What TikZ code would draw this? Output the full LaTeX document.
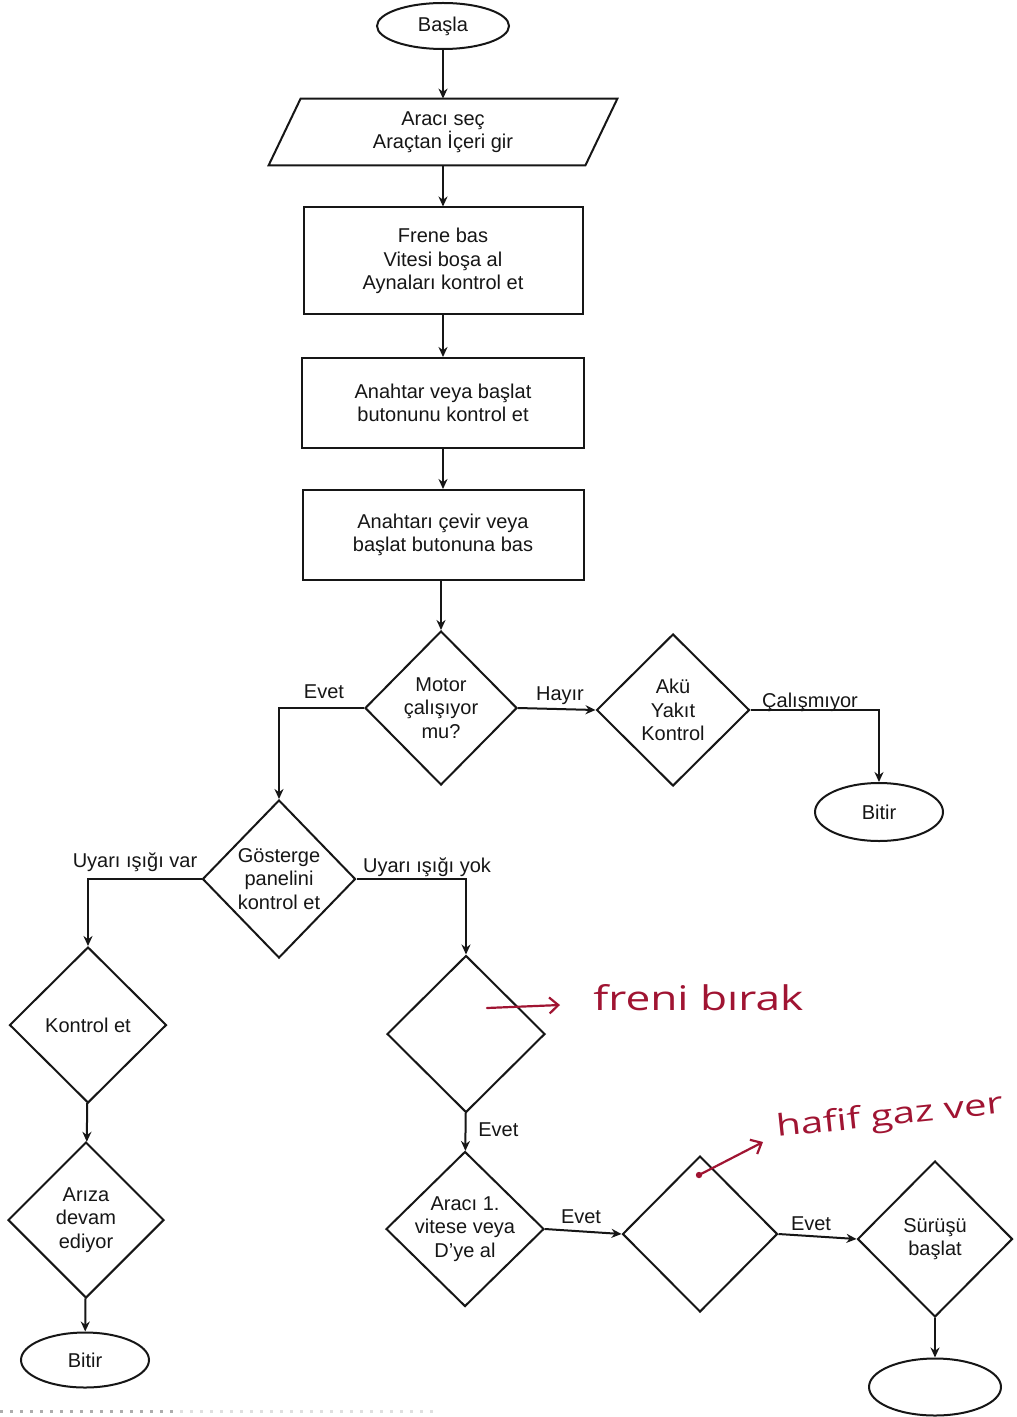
\documentclass[tikz,border=0pt]{standalone}
\usepackage{fontspec}
\usepackage{graphicx}
\setmainfont{Liberation Sans}
\newfontfamily\handfont{Open Sans}
\usetikzlibrary{shapes.geometric,arrows.meta,calc}
\newdimen\upx \upx=0.5pt
\definecolor{ink}{RGB}{22,22,22}
\definecolor{pen}{RGB}{160,20,50}

\begin{document}
\begin{tikzpicture}[x=0.5pt,y=-0.5pt,
  every node/.style={font=\fontsize{10pt}{11.75pt}\selectfont, text=ink},
  flow/.style={draw=ink, line width=1pt},
  proc/.style={flow, rectangle, align=center, inner sep=0pt},
  term/.style={flow, ellipse, inner sep=0pt},
  dec/.style={flow, diamond, inner sep=0pt},
  dtext/.style={label={[align=center]center:#1}},
  arr/.style={draw=ink, line width=1pt, -{Stealth[length=5pt,width=4.5pt]}},
  lbl/.style={anchor=base, inner sep=0pt},
  hand/.style={draw=pen, line width=1.1pt, line cap=round, line join=round,
    -{Straight Barb[length=4.5pt,width=8pt,line width=1.1pt]}},
  handtext/.style={anchor=base west, inner sep=0pt, text=pen},
]
\useasboundingbox (0,0) rectangle (1016,1417);
\fill[white] (0,0) rectangle (1016,1417);
\clip (0,0) rectangle (1016,1417);

% main column
\node[term, minimum width=132\upx, minimum height=46\upx] (start) at (443,26) {Başla};
\node[align=center, minimum width=316\upx, minimum height=66\upx, inner sep=0pt] (in1) at (443,132)
  {Aracı seç\\Araçtan İçeri gir};
\draw[flow] ([xshift=16\upx]in1.north west) -- ([xshift=16\upx]in1.north east)
  -- ([xshift=-16\upx]in1.south east) -- ([xshift=-16\upx]in1.south west) -- cycle;
\node[proc, minimum width=279\upx, minimum height=107\upx] (b1) at (443,261)
  {Frene bas\\Vitesi boşa al\\Aynaları kontrol et};
\node[proc, minimum width=282\upx, minimum height=90\upx] (b2) at (443,403)
  {Anahtar veya başlat\\butonunu kontrol et};
\node[proc, minimum width=281\upx, minimum height=90\upx] (b3) at (443,535)
  {Anahtarı çevir veya\\başlat butonuna bas};

% decisions
\node[dec, minimum width=152\upx, minimum height=154\upx, dtext={Motor\\çalışıyor\\mu?}] (motor) at (441,708) {};
\node[dec, minimum width=153\upx, minimum height=152\upx, dtext={Akü\\Yakıt\\Kontrol}] (aku) at (673,710) {};
\node[term, minimum width=128\upx, minimum height=58\upx] (bitir1) at (879,812) {Bitir};
\node[dec, minimum width=153\upx, minimum height=158\upx, dtext={Gösterge\\panelini\\kontrol et}] (gost) at (279,879) {};
\node[dec, minimum width=157\upx, minimum height=156\upx, dtext={Kontrol et}] (kont) at (88,1025) {};
\node[dec, minimum width=156\upx, minimum height=156\upx, dtext={Arıza\\devam\\ediyor}] (ariza) at (86,1220) {};
\node[term, minimum width=128\upx, minimum height=55\upx] (bitir2) at (85,1360) {Bitir};
\node[dec, minimum width=158\upx, minimum height=157\upx] (q1) at (466,1034) {};
\node[dec, minimum width=158\upx, minimum height=155\upx, dtext={Aracı 1.\\vitese veya\\D'ye al}] (arac) at (465,1229) {};
\node[dec, minimum width=155\upx, minimum height=156\upx] (q2) at (700,1234) {};
\node[dec, minimum width=155\upx, minimum height=156\upx, dtext={Sürüşü\\başlat}] (surus) at (935,1239) {};
\node[term, minimum width=132\upx, minimum height=57\upx] (son) at (935,1387) {};

% connectors
\draw[arr] (start) -- (in1);
\draw[arr] (in1) -- (b1);
\draw[arr] (b1) -- (b2);
\draw[arr] (b2) -- (b3);
\draw[arr] (b3.south -| motor.north) -- (motor.north);
\draw[arr] (motor.west) -| (gost.north);
\draw[arr] (motor.east) -- (aku.west);
\draw[arr] (aku.east) -| (bitir1.north);
\draw[arr] (gost.west) -| (kont.north);
\draw[arr] (gost.east) -| (q1.north);
\draw[arr] (kont) -- (ariza);
\draw[arr] (ariza) -- (bitir2);
\draw[arr] (q1) -- (arac);
\draw[arr] (arac.east) -- (q2.west);
\draw[arr] (q2.east) -- (surus.west);
\draw[arr] (surus) -- (son);

% connector labels
\node[lbl] (lEvet1) at (324,698) {Evet};
\node[lbl] (lHayir) at (560,700) {Hayır};
\node[lbl] (lCalis) at (810,707) {Çalışmıyor};
\node[lbl] (lVar) at (135,867) {Uyarı ışığı var};
\node[lbl] (lYok) at (427,872) {Uyarı ışığı yok};
\node[lbl, anchor=base west] (lEvet2) at (478,1136) {Evet};
\node[lbl] (lEvet3) at (581,1223) {Evet};
\node[lbl] (lEvet4) at (811,1230) {Evet};

% pen notes
\coordinate (fb0) at (487,1008);
\coordinate (fb1) at (560,1005);
\draw[hand] (fb0) -- (fb1);
\node[handtext, font=\handfont\fontsize{17pt}{17pt}\selectfont] (fbt) at (593,1010)
  {\scalebox{1.3}[1]{freni bırak}};
\coordinate (hg0) at (699,1175);
\coordinate (hg1) at (763,1142);
\fill[pen] (hg0) circle (1.6pt);
\draw[hand] (hg0) -- (hg1);
\node[handtext, rotate=6, font=\handfont\fontsize{15pt}{15pt}\selectfont] (hgt) at (777,1137)
  {\scalebox{1.34}[1]{hafif gaz ver}};

% page edge
\draw[gray!65, line width=1.5pt, dash pattern=on 1.5pt off 3.5pt] (0,1411) -- (180,1411);
\draw[gray!25, line width=1.5pt, dash pattern=on 1.5pt off 3.5pt] (180,1411) -- (440,1411);
\end{tikzpicture}
\end{document}
